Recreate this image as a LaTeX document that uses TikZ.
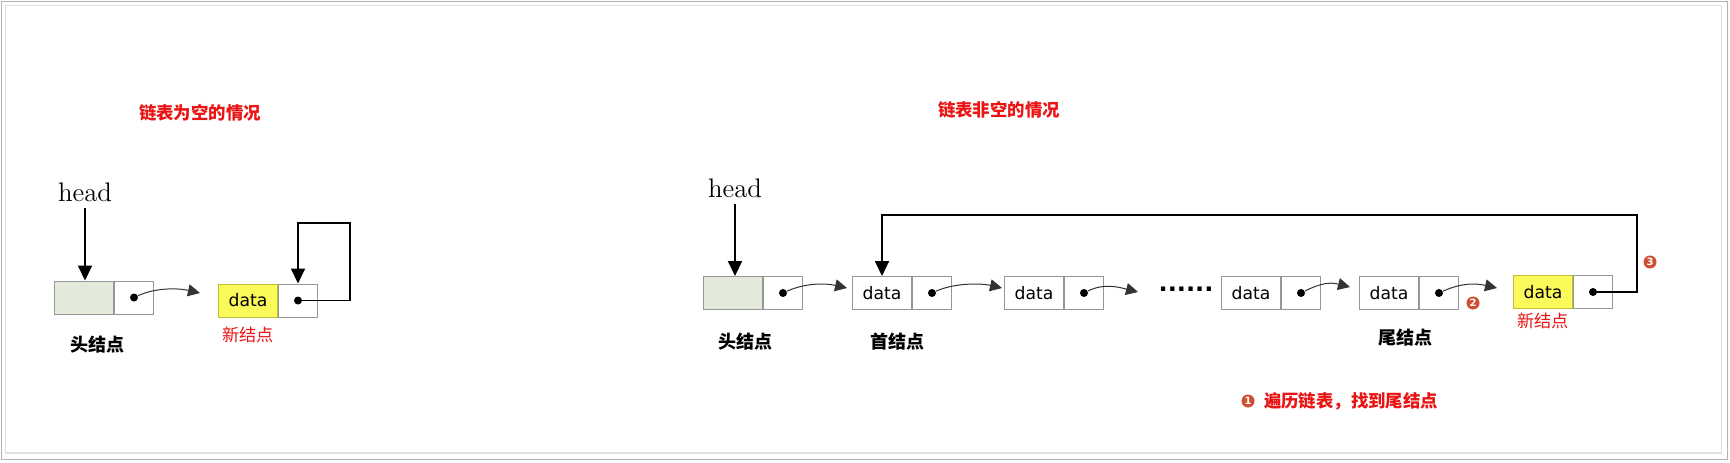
\documentclass[tikz,border=0pt]{standalone}
\usepackage{fontspec}
\newfontfamily\cjk{Noto Sans CJK SC}
\newfontfamily\dv{DejaVu Sans}
\usetikzlibrary{arrows.meta,calc}
\definecolor{cellgray}{RGB}{150,150,150}
\definecolor{headfill}{RGB}{228,234,218}
\definecolor{yel}{RGB}{250,250,90}
\definecolor{yeldraw}{RGB}{190,190,60}
\definecolor{redtxt}{RGB}{235,20,20}
\definecolor{badgecol}{RGB}{205,80,50}
\begin{document}
\begin{tikzpicture}[x=0.5pt,y=-0.5pt,
 cellbase/.style={draw=cellgray, line width=0.5pt, minimum height=16.5pt, inner sep=0pt, anchor=west},
 datacell/.style={cellbase, minimum width=29.5pt, font=\dv\fontsize{8.6}{10}\selectfont},
 ptrcell/.style={cellbase, minimum width=19.5pt},
 headcell/.style={datacell, fill=headfill},
 newcell/.style={datacell, fill=yel, draw=yeldraw},
 ptrdot/.style={circle, fill=black, inner sep=0pt, minimum size=4pt},
 linkarr/.style={line width=0.5pt, draw=black!80, -{Triangle[length=6pt,width=6pt]}},
 headarr/.style={line width=1pt, -{Triangle[length=7.5pt,width=7pt]}},
 loopline/.style={line width=0.9pt, -{Triangle[length=7.5pt,width=7pt]}},
 headtxt/.style={font=\fontsize{13.4}{16}\selectfont, anchor=base},
 ttl/.style={text=redtxt, font=\cjk\bfseries\fontsize{8.7}{10}\selectfont},
 lbl/.style={font=\cjk\bfseries\fontsize{9}{10}\selectfont},
 newlbl/.style={text=redtxt, font=\cjk\fontsize{8.6}{10}\selectfont},
 badge/.style={circle, fill=badgecol, text=white, inner sep=0pt, minimum size=6.5pt, font=\dv\bfseries\fontsize{5}{5}\selectfont},
]
\useasboundingbox (0,0) rectangle (1730,462);
\fill[white] (0,0) rectangle (1730,462);
% frame
\draw[draw=black!30, line width=0.8pt] (1.5,1.5) rectangle (1727.5,459.5);
\draw[draw=black!12, line width=0.8pt] (5.5,5.5) rectangle (1721.5,453);

% ---------- left: empty list ----------
\node[ttl] (t1) at (200,113) {链表为空的情况};
\node[headtxt] (h1) at (85,201) {head};
\node[headcell] (hd1) at (54,297.5) {};
\node[ptrcell] (hp1) at (hd1.east) {};
\node[ptrdot] (hdot1) at (hp1.center) {};
\node[newcell] (nd1) at (218,300.5) {data};
\node[ptrcell] (np1) at (nd1.east) {};
\node[ptrdot] (ndot1) at (np1.center) {};
\node[lbl] (l1) at (97,345) {头结点};
\node[newlbl] (nl1) at (248,335) {新结点};
\draw[headarr] (h1.south) -- (h1.south |- hd1.north);
\coordinate (tip1) at (200,293);
\draw[linkarr] (hdot1) .. controls ($(hdot1)+(22,-10)$) and ($(tip1)+(-22,-5)$) .. (tip1);
\coordinate (ltop1) at (350,223);
\draw[loopline] (ndot1) -| (ltop1) -| (np1.north);

% ---------- right: non-empty list ----------
\node[ttl] (t2) at (999,110) {链表非空的情况};
\node[headtxt] (h2) at (735,197) {head};
\node[headcell] (hd2) at (703,293) {};
\node[ptrcell] (hp2) at (hd2.east) {};
\node[ptrdot] (hdot2) at (hp2.center) {};
\draw[headarr] (h2.south) -- (h2.south |- hd2.north);

\node[datacell] (n1d) at (852,293) {data};
\node[ptrcell] (n1p) at (n1d.east) {};
\node[ptrdot] (n1dot) at (n1p.center) {};
\node[datacell] (n2d) at (1004,293) {data};
\node[ptrcell] (n2p) at (n2d.east) {};
\node[ptrdot] (n2dot) at (n2p.center) {};
\node[font=\dv\bfseries\fontsize{12}{12}\selectfont] (ell) at (1186,289) {......};
\node[datacell] (n3d) at (1221,293) {data};
\node[ptrcell] (n3p) at (n3d.east) {};
\node[ptrdot] (n3dot) at (n3p.center) {};
\node[datacell] (n4d) at (1359,293) {data};
\node[ptrcell] (n4p) at (n4d.east) {};
\node[ptrdot] (n4dot) at (n4p.center) {};
\node[newcell] (nd2) at (1513,292) {data};
\node[ptrcell] (np2) at (nd2.east) {};
\node[ptrdot] (ndot2) at (np2.center) {};

\coordinate (tip2) at (847,288);
\coordinate (tip3) at (1002,288);
\coordinate (tip4) at (1138,292);
\coordinate (tip5) at (1350,287);
\coordinate (tip6) at (1497,288);
\draw[linkarr] (hdot2) .. controls ($(hdot2)+(22,-10)$) and ($(tip2)+(-22,-5)$) .. (tip2);
\draw[linkarr] (n1dot) .. controls ($(n1dot)+(22,-10)$) and ($(tip3)+(-22,-5)$) .. (tip3);
\draw[linkarr] (n2dot) .. controls ($(n2dot)+(20,-10)$) and ($(tip4)+(-20,-5)$) .. (tip4);
\draw[linkarr] (n3dot) .. controls ($(n3dot)+(20,-10)$) and ($(tip5)+(-20,-5)$) .. (tip5);
\draw[linkarr] (n4dot) .. controls ($(n4dot)+(22,-10)$) and ($(tip6)+(-22,-5)$) .. (tip6);

\coordinate (ltop2) at (1637,215);
\draw[loopline] (ndot2) -| (ltop2) -| (n1d.north);

\node[lbl] (l2) at (745,342) {头结点};
\node[lbl] (l3) at (897,342) {首结点};
\node[lbl] (l4) at (1405,338) {尾结点};
\node[newlbl] (nl2) at (1543,321) {新结点};

\node[badge] (b2) at (1473,303) {2};
\node[badge] (b3) at (1650,262) {3};
\node[badge] (b1) at (1248,401) {1};
\node[ttl, anchor=west] (step1) at (1257,401) {遍历链表，找到尾结点};
\end{tikzpicture}
\end{document}
